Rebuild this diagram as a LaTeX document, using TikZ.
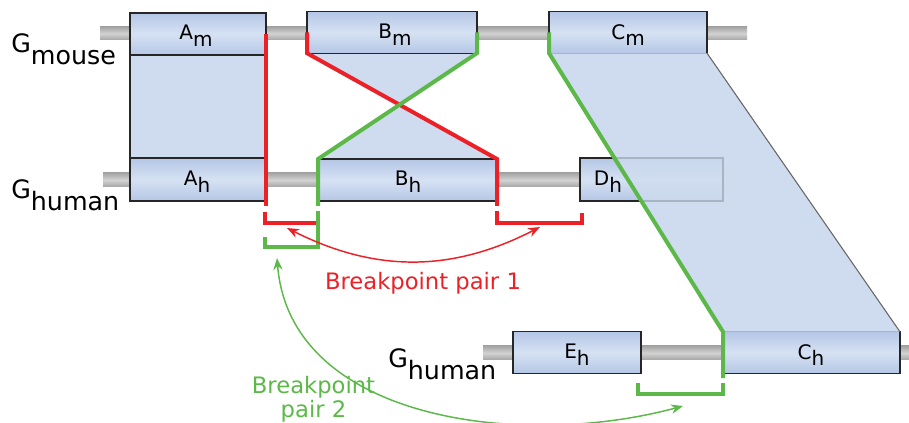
\documentclass[tikz,border=0pt]{standalone}
\usepackage{fontspec}
\setmainfont{DejaVu Sans}
\usetikzlibrary{arrows.meta,calc,backgrounds}
\definecolor{boxedge}{RGB}{181,199,230}
\definecolor{boxmid}{RGB}{214,225,243}
\definecolor{shadeblue}{RGB}{207,220,239}
\definecolor{barmid}{RGB}{210,210,210}
\definecolor{baredge}{RGB}{165,165,165}
\definecolor{bpred}{RGB}{236,32,39}
\definecolor{bpgreen}{RGB}{92,184,72}
\newcommand{\genesub}[1]{\raisebox{-5pt}{#1}}
\newcommand{\lowsub}[1]{\raisebox{-9pt}{#1}}
\tikzset{
  gene/.style={draw=black!85, line width=0.9pt, inner sep=0pt, outer sep=0pt,
    top color=boxedge, bottom color=boxedge, middle color=boxmid,
    minimum height=31pt},
  genetext/.style={inner sep=0pt, font=\fontsize{15}{18}\selectfont},
  chrom/.style={top color=baredge, bottom color=baredge, middle color=barmid},
  glabel/.style={inner sep=0pt, font=\fontsize{19}{22}\selectfont},
  bplabel/.style={inner sep=0pt, font=\fontsize{17}{18}\selectfont},
  redline/.style={draw=bpred, line width=3pt},
  greenline/.style={draw=bpgreen, line width=3pt},
}
\begin{document}
\begin{tikzpicture}[x=0.75pt,y=-0.75pt,>={Stealth[length=9pt,width=7pt]}]
    \useasboundingbox (0,0) rectangle (909,423);
    % mouse genome
    \node[gene, minimum width=102pt, minimum height=31.5pt] (Am) at (198,34) {};
    \node[gene, minimum width=127.5pt] (Bm) at (392,32.5) {};
    \node[gene, minimum width=118.5pt] (Cm) at (628,32.5) {};
    % human genome, first segment
    \node[gene, minimum width=101.25pt, minimum height=32.25pt] (Ah) at (197.5,179.5) {};
    \node[gene, minimum width=134.25pt, minimum height=31.5pt] (Bh) at (407.5,180) {};
    \node[gene, minimum width=107.25pt, minimum height=32.25pt] (Dh) at (651.5,179.5) {};
    % human genome, second segment
    \node[gene, minimum width=96pt] (Eh) at (577,352.5) {};
    \node[gene, minimum width=132.75pt] (Ch) at (811.5,352.5) {};
    % gene names
    \node[genetext] (amtext) at (196,36) {A\genesub{m}};
    \node[genetext] (bmtext) at (395,35) {B\genesub{m}};
    \node[genetext] (cmtext) at (628,35) {C\genesub{m}};
    \node[genetext] (ahtext) at (197,182) {A\genesub{h}};
    \node[genetext] (bhtext) at (408,182) {B\genesub{h}};
    \node[genetext] (dhtext) at (608,182) {D\genesub{h}};
    \node[genetext] (ehtext) at (577,355) {E\genesub{h}};
    \node[genetext] (chtext) at (811,355) {C\genesub{h}};
    \node[glabel, anchor=base west] (gmouse) at (11,53) {G\lowsub{mouse}};
    \node[glabel, anchor=base west] (ghumana) at (11,199) {G\lowsub{human}};
    \node[glabel, anchor=base west] (ghumanb) at (388,368) {G\lowsub{human}};
    \begin{scope}[on background layer]
        \fill[chrom] (100,27) rectangle (747,40);
        \fill[chrom] (103,173) rectangle (737,187);
        \fill[chrom] (483,346) rectangle (912,360);
        \filldraw[fill=shadeblue, draw=black!85, line width=0.9pt] (Am.south west) rectangle (Ah.north east);
        \fill[shadeblue] (Bm.south west) -- (Bm.south east) -- (Bh.north west) -- (Bh.north east) -- cycle;
        \fill[shadeblue] (Cm.south west) -- (Cm.south east) -- (Ch.north east) -- (Ch.north west) -- cycle;
    \end{scope}
    \fill[shadeblue, fill opacity=0.78] (Cm.south west) -- (Cm.south east) -- (Ch.north east) -- (Ch.north west) -- cycle;
    \draw[black!60, line width=0.8pt] (Cm.south east) -- (Ch.north east);
    % breakpoints
    \draw[redline] (Am.east) -- ($(Am.east |- Ah.south)+(0,5)$);
    \draw[redline] ($(Ah.south east)+(0,11)$) -- ++(0,11) -- ++(53,0);
    \draw[redline] (Bm.west) -- (Bm.south west) -- (Bh.north east) -- ($(Bh.south east)+(0,5)$);
    \draw[redline] ($(Bh.south east)+(0,10)$) -- ++(0,12) -- ++(85,0) -- ++(0,-10);
    \draw[greenline] (Bm.east) -- (Bm.south east) -- (Bh.north west) -- ($(Bh.south west)+(0,5)$);
    \draw[greenline] ($(Bh.south west)+(0,10)$) -- ++(0,36) -- ++(-53,0) -- ++(0,-10);
    \draw[greenline] (Cm.west) -- (Cm.south west) -- (Ch.north west) -- ($(Ch.south west)+(0,5)$);
    \draw[greenline] ($(Ch.south west)+(0,10)$) -- ++(0,11) -- ++(-85,0) -- ++(0,-11);
    % pairs
    \coordinate (bpa) at (287,228);
    \coordinate (bpb) at (540,227);
    \coordinate (bpc) at (277,258);
    \coordinate (bpd) at (683,406);
    \draw[bpred, line width=1.1pt, <->] (bpa) to[bend right=27] (bpb);
    \draw[bpgreen, line width=1.1pt, <->] (bpc) .. controls (290,420) and (520,450) .. (bpd);
    \node[bplabel, text=bpred, anchor=base] (pairone) at (423,290) {Breakpoint pair 1};
    \node[bplabel, text=bpgreen, anchor=south, align=center] (pairtwo) at (313.5,422) {Breakpoint\\pair 2};
\end{tikzpicture}
\end{document}
